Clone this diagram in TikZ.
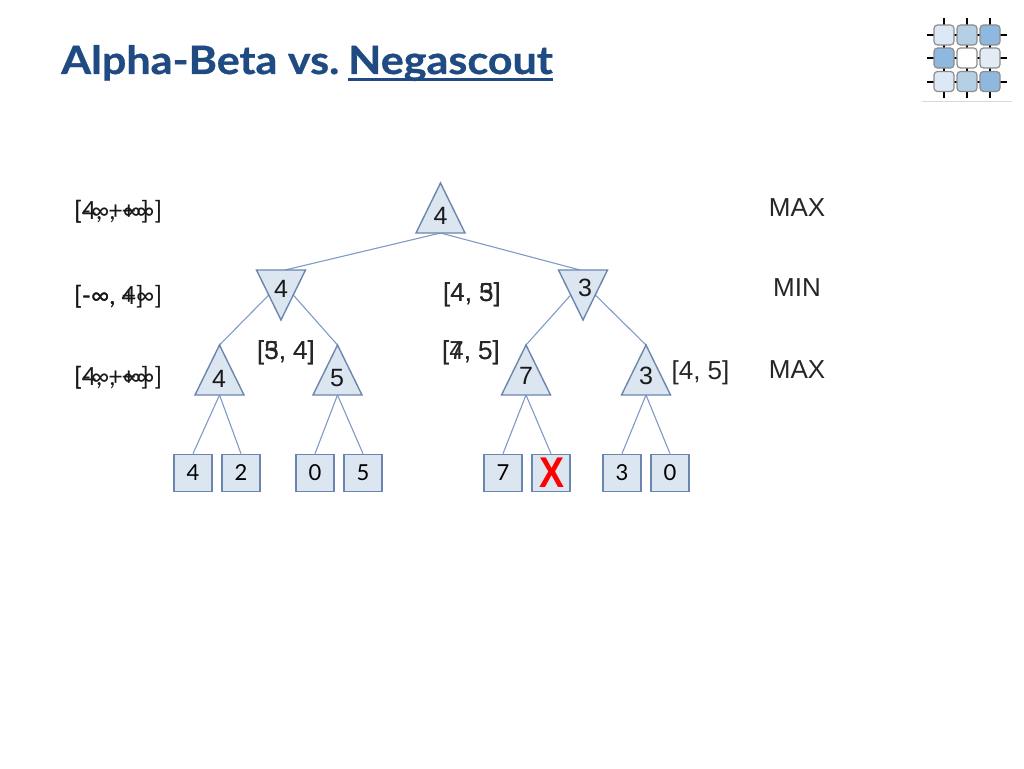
\documentclass[tikz,border=0pt]{standalone}
\usepackage{fontspec}
\usetikzlibrary{calc}
\setmainfont{Liberation Sans}
\newfontfamily\gill{Lato}
\newfontfamily\gillt[BoldFeatures={FakeStretch=1.105,FakeBold=0.8}]{Lato}
\definecolor{titleblue}{HTML}{1F4A82}
\definecolor{nodefill}{HTML}{DCE6F1}
\definecolor{nodeline}{HTML}{6A86AE}
\definecolor{edgeline}{HTML}{7F9AC4}
\definecolor{logoa}{HTML}{DCE8F5}
\definecolor{logob}{HTML}{B5D0E4}
\definecolor{logoc}{HTML}{8FB8DE}
\definecolor{logod}{HTML}{E3EBF4}
\tikzset{
  tribox/.style={minimum width=49pt,minimum height=50pt,inner sep=0pt,outer sep=0pt},
  leaf/.style={draw=nodeline,fill=nodefill,line width=1.7pt,minimum width=38pt,minimum height=37pt,inner sep=0pt,font=\gill\fontsize{22}{24}\selectfont},
  tri/.style={draw=nodeline,fill=nodefill,line width=1.4pt,line join=miter},
  link/.style={draw=edgeline,line width=1.1pt},
  val/.style={font=\fontsize{25}{27}\selectfont,text=black!90,inner sep=0pt},
  bound/.style={font=\fontsize{26}{28}\selectfont,text=black!85,inner sep=0pt},
  lvl/.style={font=\fontsize{26}{28}\selectfont,text=black!85,inner sep=0pt},
  leftb/.style={font=\gill\fontsize{25}{27}\selectfont,text=black!90,inner sep=0pt},
  cell/.style={draw=black!45,line width=1.2pt,rounded corners=3.5pt,minimum size=20pt,inner sep=0pt},
}
\begin{document}
\begin{tikzpicture}[x=1pt,y=-1pt]
\useasboundingbox (0,0) rectangle (1024,768);
% title
\node[anchor=base west,inner sep=0pt,text=titleblue,font=\gillt\bfseries\fontsize{39}{42}\selectfont] (ttl) at (61,74) {Alpha-Beta vs.};
\node[anchor=base west,inner sep=0pt,text=titleblue,font=\gillt\bfseries\fontsize{39}{42}\selectfont] (neg) at (348,74) {Negascout};
\coordinate (ula) at (348,79.5);
\coordinate (ulb) at (553,79.5);
\draw[titleblue,line width=2.6pt] (ula) -- (ulb);
% logo
\draw[black,line width=2pt] (927,35)--(1007,35) (927,58)--(1007,58) (927,81.5)--(1007,81.5)
  (944,18)--(944,98) (967,18)--(967,98) (990,18)--(990,98);
\draw[black!15,line width=0.8pt] (922,101.5)--(1012,101.5);
\node[cell,fill=logoa] (c11) at (944,35) {};
\node[cell,fill=logob] (c12) at (967,35) {};
\node[cell,fill=logoc] (c13) at (990,35) {};
\node[cell,fill=logoc] (c21) at (944,58) {};
\node[cell,fill=white] (c22) at (967,58) {};
\node[cell,fill=logod] (c23) at (990,58) {};
\node[cell,fill=logoa] (c31) at (944,81.5) {};
\node[cell,fill=logob] (c32) at (967,81.5) {};
\node[cell,fill=logoc] (c33) at (990,81.5) {};
% triangle frames
\node[tribox] (root) at (440.5,208) {};
\node[tribox] (minl) at (281,295) {};
\node[tribox] (minr) at (583,295) {};
\node[tribox] (m1) at (219.5,370) {};
\node[tribox] (m2) at (337.5,370) {};
\node[tribox] (m3) at (526,370) {};
\node[tribox] (m4) at (646,370) {};
% leaves
\node[leaf] (l1) at (193,473) {4};
\node[leaf] (l2) at (241,473) {2};
\node[leaf] (l3) at (315,473) {0};
\node[leaf] (l4) at (363,473) {5};
\node[leaf] (l5) at (503,473) {7};
\node[leaf] (l6) at (551,473) {};
\node[leaf] (l7) at (622,473) {3};
\node[leaf] (l8) at (670,473) {0};
% connectors
\draw[link] (root.south) -- ($(minl.north)+(4,0)$);
\draw[link] (root.south) -- ($(minr.north)-(3,0)$);
\draw[link] ($(minl.north west)!.5!(minl.south)$) -- (m1.north);
\draw[link] ($(minl.north east)!.5!(minl.south)$) -- (m2.north);
\draw[link] ($(minr.north west)!.5!(minr.south)$) -- (m3.north);
\draw[link] ($(minr.north east)!.5!(minr.south)$) -- (m4.north);
\foreach \p/\a/\b in {m1/l1/l2,m2/l3/l4,m3/l5/l6,m4/l7/l8}{
  \draw[link] (\p.south) -- (\a.north);
  \draw[link] (\p.south) -- (\b.north);
}
% triangles
\foreach \n in {root,m1,m2,m3,m4}{
  \draw[tri] (\n.south west) -- (\n.south east) -- (\n.north) -- cycle;
}
\foreach \n in {minl,minr}{
  \draw[tri] (\n.north west) -- (\n.north east) -- (\n.south) -- cycle;
}
% values
\node[val] (vroot) at (440.5,216) {4};
\node[val] (vminl) at (281,289) {4};
\node[val] (vminr) at (585,288) {3};
\node[val] (vm1) at (219,379) {4};
\node[val] (vm2) at (337,378) {5};
\node[val] (vm3) at (526,376) {7};
\node[val] (vm4) at (646,376) {3};
% cut
\node[inner sep=0pt,text=red,font=\bfseries\fontsize{43}{45}\selectfont,transform shape,xscale=.87] (cut) at (552,473) {X};
% bounds (overprinted, as in the reference)
\node[bound] (b1a) at (286,352.5) {[3, 4]};
\node[bound] (b1b) at (286,352.5) {[5, 4]};
\node[bound] (b2a) at (472,295) {[4, 3]};
\node[bound] (b2b) at (472,295) {[4, 5]};
\node[bound] (b3a) at (471,352.5) {[4, 5]};
\node[bound] (b3b) at (471,352.5) {[7, 5]};
\node[bound] (b4) at (700.5,372.5) {[4, 5]};
% level names
\node[lvl] (lv1) at (797,208) {MAX};
\node[lvl] (lv2) at (797,288) {MIN};
\node[lvl] (lv3) at (797,370) {MAX};
% left bounds
\node[leftb,anchor=west] (la1) at (74,212) {[-∞, +∞]};
\node[leftb,anchor=west] (la2) at (74,212) {[4, +∞]};
\node[leftb,anchor=west] (lb1) at (74,297) {[-∞, 4]};
\node[leftb,anchor=west] (lb2) at (74,297) {[-∞, +∞]};
\node[leftb,anchor=west] (lc1) at (74,378) {[-∞, +∞]};
\node[leftb,anchor=west] (lc2) at (74,378) {[4, +∞]};
\end{tikzpicture}
\end{document}
